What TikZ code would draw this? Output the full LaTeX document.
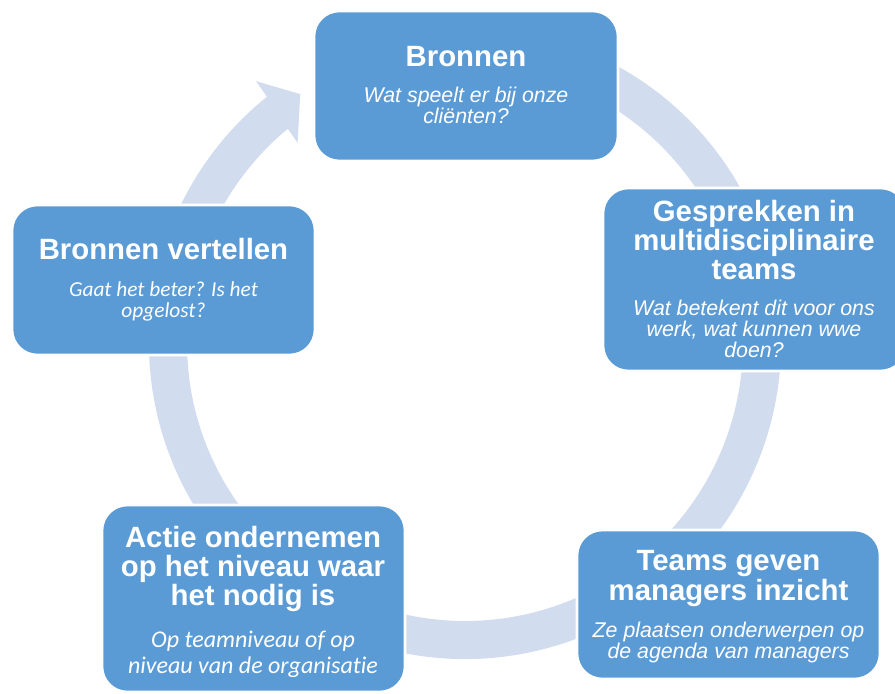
\documentclass[tikz,border=0pt]{standalone}
\usepackage{fontspec}
\setmainfont{Liberation Sans}
\newfontfamily\calib[Ligatures=NoCommon]{Carlito}
\usetikzlibrary{calc}
\definecolor{boxblue}{RGB}{91,155,213}
\definecolor{ringblue}{RGB}{209,220,238}
\tikzset{
  box/.style={draw=white, line width=2pt, fill=boxblue, rounded corners=19pt, inner sep=0pt, outer sep=0pt},
  ttl/.style={anchor=base, inner sep=0pt, text=white, font=\fontsize{22}{22}\selectfont\bfseries},
  sub/.style={anchor=base, inner sep=0pt, text=white, font=\fontsize{16}{16}\selectfont\itshape},
  subc/.style={anchor=base, inner sep=0pt, text=white, font=\calib\fontsize{16}{16}\selectfont\itshape},
  subcl/.style={anchor=base, inner sep=0pt, text=white, font=\calib\fontsize{18}{18}\selectfont\itshape},
}
\begin{document}
\begin{tikzpicture}[x=0.75pt, y=0.75pt]
\useasboundingbox (0,0) rectangle (895,693);
\clip (0,0) rectangle (895,693);
\coordinate (C) at (465,350);
% circular arrow
\fill[ringblue] ($(C)+(70:316)$) arc[start angle=70, end angle=-231.2, radius=316]
  -- ($(C)+(128.6:335)$) -- ($(C)+(123.5:298.5)$) -- ($(C)+(129.9:261)$)
  -- ($(C)+(129.6:278)$) arc[start angle=-230.4, end angle=70, radius=278] -- cycle;
% boxes
\node[box, minimum width=228pt, minimum height=112.5pt] (b1) at (466,607) {};
\node[box, minimum width=227.25pt, minimum height=137.25pt] (b2) at (754.5,413.5) {};
\node[box, minimum width=227.25pt, minimum height=111.75pt] (b3) at (728.5,88.5) {};
\node[box, minimum width=227.25pt, minimum height=140.25pt] (b4) at (253.5,94.5) {};
\node[box, minimum width=227.25pt, minimum height=112.5pt] (b5) at (163.5,413) {};
% Bronnen
\node[ttl] (t1a) at (466,626.3) {Bronnen};
\node[sub] (s1a) at (466,590) {Wat speelt er bij onze};
\node[sub] (s1b) at (466,569) {cliënten?};
% Gesprekken
\node[ttl] (t2a) at (754,471) {Gesprekken in};
\node[ttl] (t2b) at (754,442) {multidisciplinaire};
\node[ttl] (t2c) at (754,413) {teams};
\node[sub] (s2a) at (754,377) {Wat betekent dit voor ons};
\node[sub] (s2b) at (754,356) {werk, wat kunnen wwe};
\node[sub] (s2c) at (754,335) {doen?};
% Teams
\node[ttl] (t3a) at (728.5,123) {Teams geven};
\node[ttl] (t3b) at (728.5,93) {managers inzicht};
\node[sub] (s3a) at (728.5,56) {Ze plaatsen onderwerpen op};
\node[sub] (s3b) at (728.5,35) {de agenda van managers};
% Actie
\node[ttl] (t4a) at (253,146) {Actie ondernemen};
\node[ttl] (t4b) at (253,117) {op het niveau waar};
\node[ttl] (t4c) at (253,88) {het nodig is};
\node[subcl] (s4a) at (253,46) {Op teamniveau of op};
\node[subcl] (s4b) at (253,20) {niveau van de organisatie};
% Bronnen vertellen
\node[ttl] (t5a) at (163.5,433) {Bronnen vertellen};
\node[subc] (s5a) at (163.5,396) {Gaat het beter? Is het};
\node[subc] (s5b) at (163.5,375) {opgelost?};
\end{tikzpicture}
\end{document}
